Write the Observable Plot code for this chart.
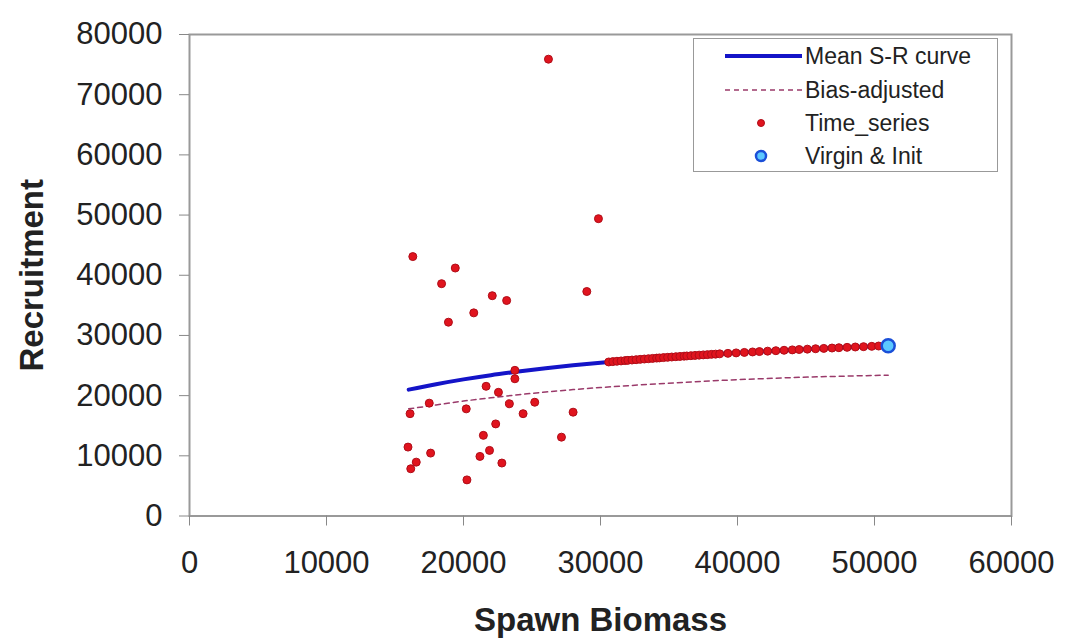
<!DOCTYPE html>
<html><head><meta charset="utf-8">
<script src="https://cdn.jsdelivr.net/npm/d3@7"></script>
<script src="https://cdn.jsdelivr.net/npm/@observablehq/plot@0.6"></script>
<style>
body{margin:0;background:#fff;}
#wrap{position:relative;width:1068px;height:644px;font-family:"Liberation Sans",Arial,sans-serif;color:#222;}
#wrap svg{display:block;}
g[aria-label="x-axis label"] text, g[aria-label="y-axis label"] text{font-weight:bold;font-size:33px;}
#legend{position:absolute;left:693px;top:38px;width:305px;height:134px;border:1.5px solid #999;background:#fff;box-sizing:border-box;}
#legend .row{position:absolute;left:0;height:34px;display:flex;align-items:center;}
#legend .row span{position:absolute;left:111px;white-space:nowrap;font-size:23px;line-height:34px;color:#222;}
#legend svg{position:absolute;left:31px;top:0;}
</style>
</head><body>
<div id="wrap"><div id="chart"></div><div id="legend"></div></div>
<script>
// Observed time series (spawn biomass, recruitment)
const obsSpawn   = [26200, 29850, 16300, 19400, 18400, 22100, 23150, 29000, 20750, 18900, 23750, 23750, 21650, 22550, 17500, 16100, 20200, 23350, 25200, 24350, 28000, 22350, 21450, 27150, 15950, 17600, 21900, 21200, 22800, 16550, 16150, 20250];
const obsRecruit = [75900, 49400, 43100, 41200, 38600, 36600, 35800, 37300, 33750, 32200, 24200, 22800, 21550, 20550, 18750, 17000, 17800, 18650, 18900, 17000, 17250, 15300, 13400, 13100, 11450, 10450, 10900,  9900,  8800,  8950,  7850,  6000];
// Time series points lying on the S-R curve
const projSpawn   = [30600, 30900, 31200, 31500, 31800, 32000, 32300, 32600, 32900, 33200, 33500, 33800, 34100, 34300, 34600, 34900, 35200, 35500, 35800, 36100, 36300, 36600, 36900, 37200, 37500, 37800, 38100, 38400, 38700, 39300, 39900, 40500, 41100, 41600, 42200, 42800, 43400, 44000, 44500, 45100, 45700, 46300, 46900, 47400, 48000, 48600, 49200, 49800, 50300];
const projRecruit = [25590, 25650, 25710, 25765, 25820, 25860, 25915, 25970, 26025, 26080, 26130, 26185, 26235, 26265, 26320, 26365, 26415, 26465, 26510, 26560, 26590, 26635, 26680, 26725, 26770, 26810, 26855, 26895, 26940, 27020, 27100, 27180, 27255, 27320, 27390, 27465, 27535, 27600, 27660, 27725, 27790, 27850, 27910, 27960, 28020, 28080, 28135, 28190, 28240];
// Stock-recruit curves
const curveSpawn = [16000, 18000, 20000, 22000, 24000, 26000, 28000, 30000, 32000, 34000, 36000, 38000, 40000, 42000, 44000, 46000, 48000, 50000, 51000];
const meanCurve  = [21000, 21900, 22700, 23400, 24000, 24550, 25030, 25470, 25860, 26220, 26540, 26840, 27110, 27370, 27600, 27820, 28020, 28210, 28300];
const biasCurve  = [17800, 18450, 19100, 19650, 20150, 20600, 21000, 21350, 21650, 21950, 22200, 22450, 22650, 22830, 23000, 23130, 23250, 23350, 23400];
// Virgin & initial
const virginSpawn = [51000];
const virginRecruit = [28300];
// Axes
const xTicks = [0, 10000, 20000, 30000, 40000, 50000, 60000];
const yTicks = [0, 10000, 20000, 30000, 40000, 50000, 60000, 70000, 80000];
const legendLabels = ["Mean S-R curve", "Bias-adjusted", "Time_series", "Virgin & Init"];

const obs = obsSpawn.map((s, i) => ({s, r: obsRecruit[i]}));
const proj = projSpawn.map((s, i) => ({s, r: projRecruit[i]}));
const mean = curveSpawn.map((s, i) => ({s, r: meanCurve[i]}));
const bias = curveSpawn.map((s, i) => ({s, r: biasCurve[i]}));
const virgin = virginSpawn.map((s, i) => ({s, r: virginRecruit[i]}));

const RED = "#e0141e", REDS = "#b00d18", BLUE = "#1414c8", BIAS = "#9a3a6a";

const chart = Plot.plot({
  width: 1068, height: 644,
  marginLeft: 189, marginRight: 57, marginTop: 34, marginBottom: 128.5,
  style: {fontFamily: '"Liberation Sans", Arial, sans-serif', fontSize: "31px", color: "#222", background: "#fff"},
  x: {domain: [0, 60000]},
  y: {domain: [0, 80000]},
  marks: [
    Plot.frame({stroke: "#999", strokeWidth: 2}),
    Plot.axisX({ticks: xTicks, tickSize: 10, tickPadding: 25, tickFormat: d3.format("d"), stroke: "#888", fill: "#222", fontSize: 31,
      label: "Spawn Biomass", labelArrow: "none", labelAnchor: "center", labelOffset: 115}),
    Plot.axisY({ticks: yTicks, tickSize: 10, tickPadding: 17, tickFormat: d3.format("d"), stroke: "#888", fill: "#222", fontSize: 31,
      label: "Recruitment", labelArrow: "none", labelAnchor: "center", labelOffset: 170}),
    Plot.line(bias, {x: "s", y: "r", stroke: BIAS, strokeWidth: 1.5, strokeDasharray: "5,4"}),
    Plot.line(mean, {x: "s", y: "r", stroke: BLUE, strokeWidth: 4, curve: "monotone-x"}),
    Plot.dot(obs, {x: "s", y: "r", r: 4, fill: RED, stroke: REDS, strokeWidth: 1}),
    Plot.dot(proj, {x: "s", y: "r", r: 4, fill: RED, stroke: REDS, strokeWidth: 1}),
    Plot.dot(virgin, {x: "s", y: "r", r: 6.5, fill: "#5cc8ff", stroke: "#1a4fd8", strokeWidth: 2.5})
  ]
});
document.getElementById("chart").append(chart);

// Legend
const legend = document.getElementById("legend");
const rowTops = [0, 34, 67, 100];
legendLabels.forEach((lab, i) => {
  const row = document.createElement("div");
  row.className = "row";
  row.style.top = (rowTops[i]) + "px";
  row.style.width = "100%";
  const svg = d3.create("svg").attr("width", 80).attr("height", 34);
  if (i === 0) svg.append("line").attr("x1", 0).attr("x2", 77).attr("y1", 17).attr("y2", 17).attr("stroke", BLUE).attr("stroke-width", 4);
  if (i === 1) svg.append("line").attr("x1", 0).attr("x2", 77).attr("y1", 17).attr("y2", 17).attr("stroke", BIAS).attr("stroke-width", 1.5).attr("stroke-dasharray", "5,4");
  if (i === 2) svg.append("circle").attr("cx", 36).attr("cy", 17).attr("r", 3.5).attr("fill", RED).attr("stroke", REDS);
  if (i === 3) svg.append("circle").attr("cx", 36).attr("cy", 17).attr("r", 5).attr("fill", "#5cc8ff").attr("stroke", "#1a4fd8").attr("stroke-width", 2.5);
  row.append(svg.node());
  const span = document.createElement("span");
  span.textContent = lab;
  row.append(span);
  legend.append(row);
});
</script>
</body></html>
